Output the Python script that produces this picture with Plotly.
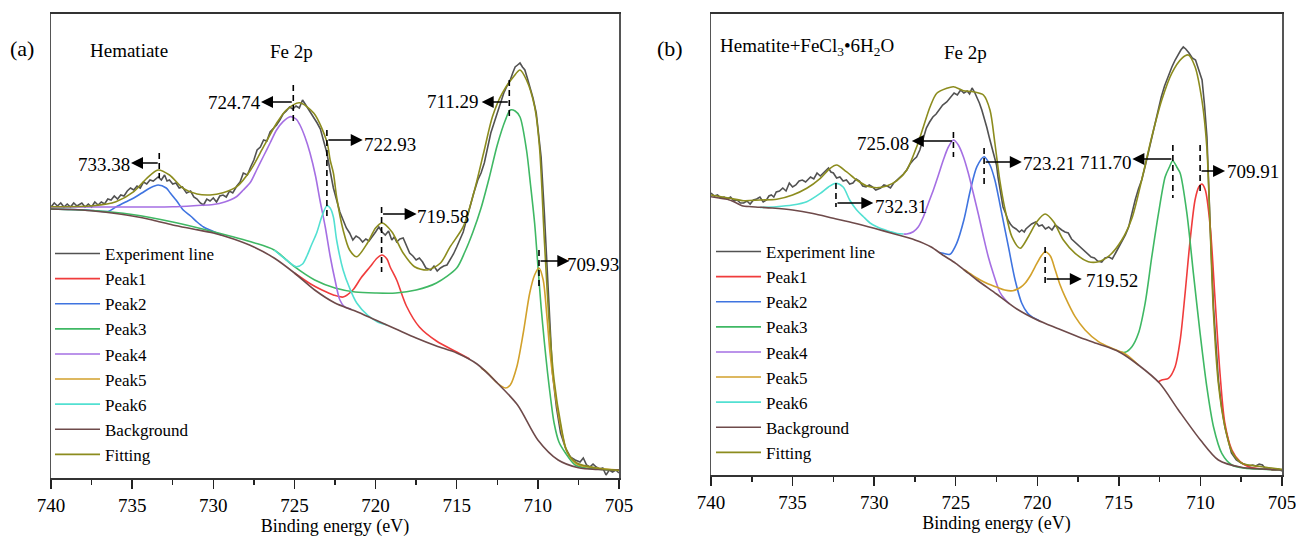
import plotly.graph_objects as go

SERIF = "Liberation Serif"

# ---------------- Panel (a): Hematiate ----------------
a_exp_E = [740, 739.8, 739.6, 739.4, 739.2, 739.0, 738.8, 738.6, 738.4, 738.1, 737.9, 737.7, 737.5, 737.3, 737.1,
           736.9, 736.7, 736.5, 736.3, 736.1, 735.9, 735.7, 735.5, 735.3, 735.1, 734.9, 734.7, 734.5, 734.3, 734.1,
           733.9, 733.7, 733.4, 733.2, 733.0, 732.85, 732.7, 732.5, 732.3, 732.1, 731.9, 731.65, 731.4, 731.2, 731.0,
           730.8, 730.6, 730.4, 730.2, 730.0, 729.8, 729.6, 729.4, 729.2, 729.0, 728.8, 728.55, 728.35, 728.15, 727.9,
           727.7, 727.5, 727.3, 727.1, 726.9, 726.7, 726.5, 726.3, 726.1, 725.9, 725.7, 725.5, 725.3, 725.1, 724.9,
           724.7, 724.5, 724.3, 724.1, 723.85, 723.6, 723.4, 723.2, 723.0, 722.8, 722.6, 722.4, 722.2, 722.0, 721.8,
           721.6, 721.4, 721.2, 721.0, 720.8, 720.6, 720.4, 720.2, 720.0, 719.8, 719.6, 719.4, 719.2, 719.0, 718.85,
           718.7, 718.5, 718.3, 718.1, 717.9, 717.7, 717.5, 717.3, 717.1, 716.9, 716.6, 716.4, 716.2, 716.0, 715.8,
           715.6, 715.4, 715.2, 715.0, 714.8, 714.6, 714.4, 714.2, 713.95, 713.7, 713.5, 713.3, 713.1, 712.9, 712.7,
           712.5, 712.3, 712.1, 711.9, 711.7, 711.55, 711.4, 711.25, 711.1, 710.95, 710.8, 710.65, 710.5, 710.3, 710.1,
           709.95, 709.8, 709.6, 709.4, 709.25, 709.1, 708.85, 708.6, 708.3, 708.0, 707.7, 707.4, 707.2, 707.0, 706.8,
           706.6, 706.4, 706.2, 706.0, 705.8, 705.6, 705.4, 705.2, 705.0]
a_exp = [271, 275, 272, 275, 271, 274, 271, 275, 272, 275, 271, 274, 271, 276, 273,
         276, 274, 279, 278, 282, 279, 283, 282, 287, 290, 288, 292, 290, 296, 294,
         298, 297, 301, 298, 303, 297, 298, 294, 295, 290, 291, 285, 287, 281, 279,
         275, 273, 279, 277, 280, 276, 282, 283, 281, 287, 285, 292, 296, 305, 303,
         311, 318, 328, 331, 338, 337, 346, 349, 353, 358, 364, 367, 371, 369, 372,
         370, 378, 373, 368, 362, 355, 349, 338, 325, 307, 290, 278, 266, 258, 250,
         245, 238, 242, 240, 236, 239, 237, 241, 246, 251, 246, 243, 247, 238, 241,
         236, 239, 240, 232, 225, 222, 218, 220, 216, 210, 208, 212, 207, 210, 212,
         213, 218, 224, 231, 238, 246, 258, 271, 285, 298, 305, 315, 330, 345, 355,
         365, 376, 385, 392, 398, 405, 411, 413, 415, 411, 408, 400, 391, 380, 365,
         345, 321, 265, 205, 150, 105, 70, 45, 30, 21, 18, 16, 20, 13, 11,
         14, 11, 9, 10, 3, 8, 6, 8, 5]

a_bg_E = [740, 738.75, 737.5, 736.25, 735, 733.75, 732.5, 731.25, 730, 728.75, 727.5, 726.25, 725, 723.75, 722.5,
          721.25, 720, 718.75, 717.5, 716.25, 715, 713.75, 712.5, 711.25, 710, 708.75, 707.5, 706.25, 705]
a_bg = [269, 268.5, 267.3, 265, 262, 258, 253, 249, 245, 239, 231, 220, 205, 188, 175,
        167, 158, 149, 140, 132, 125, 114, 95, 73, 38, 18, 10.3, 8.5, 8]

a_p1_E = [725, 724, 723.3, 722.6, 722, 721.4, 720.9, 720.35, 719.9, 719.6, 719.3, 719.1, 718.7, 718.1, 717.3,
          716.25, 715, 714.2]
a_p1 = [205, 194, 188, 183, 181, 188, 200, 211, 220, 223, 219, 211, 198, 172, 151,
        137, 126, 119]

a_p2_E = [740, 738.5, 737.4, 736.5, 736, 735.4, 734.9, 734.4, 733.9, 733.4, 732.9, 732.65, 732.25, 731.85, 731.4,
          731, 730.6, 730.2, 729.5]
a_p2 = [269, 268.5, 267.5, 266.5, 271, 276, 280, 285, 290, 293, 290, 285, 277, 268, 262,
        256, 251, 248, 243]

a_p3_E = [740, 737.5, 735, 732.5, 730, 727.5, 726.25, 725, 723.75, 722.5, 721.25, 720, 718.75, 717.5, 716.25,
          715, 714.5, 714, 713.5, 713, 712.5, 712, 711.7, 711.4, 711.1, 710.7, 710.45, 710.2, 710, 709.8,
          709.6, 709.4, 709.2, 709, 708.7, 708.3, 707.7, 707, 706, 705]
a_p3 = [269, 267.5, 263.5, 256, 246.3, 235.3, 228, 211.3, 198, 190, 186, 185, 185, 188, 195,
        210, 226, 246, 270, 300, 333, 358, 368, 367, 361, 328, 293, 255, 213, 171,
        136, 105, 78, 55, 36, 25, 13, 10, 8.5, 8]

a_p4_E = [740, 737.5, 735, 732.5, 731, 730, 729.3, 728.6, 728.15, 727.7, 727.33, 726.9, 726.5, 726.1, 725.7,
          725.27, 724.9, 724.66, 724.35, 724.04, 723.7, 723.43, 723.1, 722.8, 722.5, 722.2, 721.9, 721.5]
a_p4 = [271, 271, 271, 271.3, 272.5, 273.5, 276, 281, 288, 296, 308, 322, 335, 348, 356.3,
        361.3, 359, 353, 341, 325, 302, 278, 251, 222, 198, 178, 171, 169]

a_p5_E = [713.5, 713.15, 712.5, 712, 711.7, 711.3, 710.9, 710.5, 710.2, 709.93, 709.67, 709.46, 709.25, 709.05,
          708.64, 708.2, 707.6, 706.4, 705]
a_p5 = [110, 106, 95, 90, 93, 111, 145, 185, 203, 210, 198, 165, 125, 98,
        55, 26, 14, 10, 8]

a_p6_E = [726.25, 725.5, 725, 724.86, 724.5, 724.25, 723.95, 723.63, 723.3, 723, 722.8, 722.6, 722.4, 722,
          721.6, 721.16, 720.5, 719.9, 719.3]
a_p6 = [228, 218, 212, 211.3, 214, 221.3, 233, 245, 262, 272.3, 270, 261, 238, 208,
        190, 175, 163, 156.3, 153]

a_fit_E = [740, 737.4, 736, 734.9, 734.1, 733.4, 732.7, 731.85, 731, 730.2, 729.4, 728.55, 727.7, 726.9, 726.1,
           725.5, 724.7, 723.8, 723, 722.8, 722.6, 722.4, 722, 721.6, 721.16, 720.5, 720, 719.6, 719, 718.3,
           717.6, 716.8, 716, 715.4, 714.6, 713.95, 713.3, 712.8, 712.2, 711.5, 711.1, 710.7, 710.2, 709.9, 709.6,
           709.3, 709, 708.6, 708.2, 707.6, 706.4, 705]
a_fit = [271.3, 272.3, 276.3, 286.3, 299.7, 308, 303, 289.7, 284, 283, 285.3, 291.3, 308, 331.3, 354.7,
         368, 375.3, 364.7, 336.3, 318, 305, 281, 248, 228, 221.3, 235, 250, 255, 246.3, 225,
         211.3, 208, 215, 231.3, 251.3, 285, 328, 361.3, 384.7, 401.3, 408, 398, 371.3, 331.3, 238,
         155, 98, 55, 26.3, 15, 10, 7.5]

# ---------------- Panel (b): Hematite + FeCl3·6H2O ----------------
b_exp_E = [740, 739.8, 739.6, 739.4, 739.2, 739.0, 738.8, 738.6, 738.4, 738.2, 738.0, 737.8, 737.6, 737.4, 737.2,
           737.0, 736.8, 736.6, 736.45, 736.3, 736.15, 736.0, 735.8, 735.6, 735.4, 735.2, 735.0, 734.8, 734.6, 734.4,
           734.2, 733.9, 733.7, 733.5, 733.3, 733.1, 732.95, 732.8, 732.65, 732.5, 732.3, 732.1, 731.9, 731.7, 731.5,
           731.3, 731.1, 730.9, 730.7, 730.5, 730.3, 730.1, 729.9, 729.6, 729.4, 729.2, 729.0, 728.8, 728.6, 728.4,
           728.2, 728.0, 727.8, 727.6, 727.4, 727.2, 727.0, 726.8, 726.6, 726.4, 726.2, 726.0, 725.8, 725.55, 725.3,
           725.1, 724.9, 724.7, 724.5, 724.3, 724.15, 724.0, 723.85, 723.7, 723.55, 723.4, 723.25, 723.1, 722.95, 722.8,
           722.65, 722.5, 722.4, 722.25, 722.1, 721.95, 721.8, 721.65, 721.5, 721.3, 721.1, 720.95, 720.8, 720.7, 720.55,
           720.35, 720.1, 719.9, 719.7, 719.5, 719.3, 719.1, 718.9, 718.7, 718.5, 718.3, 718.1, 717.9, 717.7, 717.5,
           717.3, 717.1, 716.9, 716.7, 716.5, 716.3, 716.05, 715.85, 715.6, 715.4, 715.2, 715.0, 714.8, 714.6, 714.4,
           714.2, 714.0, 713.8, 713.6, 713.4, 713.2, 713.0, 712.8, 712.6, 712.4, 712.2, 712.0, 711.75, 711.55, 711.35,
           711.2, 711.05, 710.9, 710.7, 710.5, 710.3, 710.1, 709.9, 709.75, 709.6, 709.4, 709.2, 708.9, 708.7, 708.5,
           708.3, 708.1, 707.8, 707.5, 707.2, 707.0, 706.8, 706.6, 706.4, 706.2, 706.0, 705.8, 705.6, 705.4, 705.2,
           705.0]
b_exp = [282, 279, 280, 277, 278, 276, 278, 274, 275, 272, 272, 274, 271, 275, 276,
         278, 273, 275, 279, 280, 278, 283, 284, 287, 284, 292, 288, 290, 294, 295,
         293, 298, 296, 302, 299, 302, 304, 307, 303, 302, 297, 298, 294, 295, 291,
         292, 296, 294, 289, 288, 290, 288, 285, 287, 290, 289, 287, 292, 295, 298,
         301, 305, 311, 315, 318, 325, 337, 347, 353, 358, 361, 365, 370, 373, 378,
         382, 380, 385, 382, 384, 381, 387, 383, 378, 372, 365, 357, 348, 338, 328,
         320, 310, 297, 282, 268, 262, 255, 251, 248, 246, 243, 245, 243, 246, 248,
         251, 253, 249, 250, 246, 248, 245, 250, 247, 245, 243, 242, 236, 233, 231,
         228, 225, 222, 218, 217, 214, 213, 217, 218, 216, 222, 228, 235, 240, 248,
         262, 275, 286, 295, 308, 322, 337, 352, 365, 378, 389, 398, 408, 415, 421,
         425, 428, 426, 422, 417, 415, 405, 395, 370, 338, 248, 168, 95, 68, 48,
         34, 22, 15, 12, 10, 9, 10, 9, 11, 10, 6, 7, 5, 5, 6,
         4]

b_bg_E = [740, 739.5, 739, 738.5, 738.1, 737.5, 736.25, 735, 733.75, 732.5, 731.25, 730, 728.75, 727.5, 726.5,
          725.8, 725, 724.4, 723.7, 722.5, 721.25, 720, 718.75, 717.5, 716.25, 715, 713.8, 712.5, 711.35, 710,
          708.9, 707.5, 706.25, 705]
b_bg = [278.3, 277, 275.7, 272.5, 269.3, 268.3, 267, 265, 261.5, 256.7, 252, 246.7, 241, 235, 228,
        220, 211.7, 204, 195, 181, 166, 155, 146.5, 138.3, 131, 123.3, 110, 91.7, 65, 35,
        15, 7.7, 6, 5]

b_p1_E = [712.6, 712.37, 711.96, 711.55, 711.24, 710.94, 710.63, 710.33, 710.1, 709.91, 709.7, 709.4, 709.1, 708.8,
          708.5, 708.07, 707.57, 707.06, 706.5, 705]
b_p1 = [93, 95, 96.7, 108.3, 135, 181.7, 235, 275, 288, 291, 285, 248.3, 175, 101.7,
        51.7, 25, 13.3, 8.3, 6.5, 5]

b_p2_E = [726, 725.76, 725.35, 724.94, 724.5, 724.1, 723.7, 723.26, 722.9, 722.6, 722.3, 722.18, 721.77, 721.36,
          720.95, 720.6, 720.34, 719.9]
b_p2 = [222.5, 221.7, 220.7, 231.7, 255, 285, 308.3, 318.3, 310, 295, 271.7, 261.7, 228.3, 195,
        171.7, 162, 158.3, 154.5]

b_p3_E = [715, 714.62, 714.2, 713.8, 713.39, 712.98, 712.57, 712.16, 711.9, 711.7, 711.45, 711.24, 710.83, 710.43,
          710.02, 709.61, 709.2, 708.69, 708.07, 707.26, 706.5, 705]
b_p3 = [123.3, 122.7, 128.3, 141.7, 171.7, 218.3, 261.7, 298.3, 308, 314.3, 308, 301.7, 261.7, 201.7,
        141.7, 88.3, 48.3, 21.7, 10, 6.7, 6, 5]

b_p4_E = [728.2, 728, 727.6, 727.3, 726.98, 726.67, 726.37, 726.06, 725.76, 725.45, 725.14, 724.84, 724.53, 724.23,
          723.92, 723.6, 723.3, 723, 722.7, 722.3, 722, 721.7]
b_p4 = [241, 241, 243.3, 248, 258.3, 272, 285, 300, 315, 328, 335, 330, 318.3, 302,
        281.7, 260, 238.3, 218, 201.7, 183, 176, 171]

b_p5_E = [724.5, 724, 723.5, 723, 722.5, 722, 721.5, 721, 720.75, 720.4, 720.13, 719.8, 719.52, 719.2, 718.9,
          718.6, 718.3, 717.68, 717.07, 716.25, 715.43, 714.7, 714.2, 713.8]
b_p5 = [205.5, 200, 195, 191, 188, 185, 184.3, 188, 191.7, 200, 208.3, 218, 223.3, 219, 205,
        190, 178.3, 158.3, 145, 133.3, 126.7, 122, 116, 110]

b_p6_E = [737, 736, 735, 734.13, 733.3, 732.8, 732.34, 731.9, 731.5, 731.07, 730.66, 730.25, 729.84, 729.4, 729,
          728.6, 728.2]
b_p6 = [267.5, 268.3, 270, 273.3, 281.7, 288, 291.7, 288, 275, 265, 258.3, 252, 248.3, 245.5, 243.3,
        241.5, 241]

b_fit_E = [740, 738.84, 738, 737, 735.97, 735, 734.13, 733.3, 732.7, 732.3, 731.7, 731.07, 730.45, 729.84, 729.23,
           728.6, 728, 727.39, 726.98, 726.57, 726.16, 725.55, 725.14, 724.53, 723.92, 723.3, 722.9, 722.6, 722.3,
           721.97, 721.56, 721.05, 720.55, 720.03, 719.52, 719, 718.4, 717.68, 716.87, 716.25, 715.54, 714.82, 714.2,
           713.6, 712.98, 712.37, 711.76, 711.14, 710.74, 710.33, 709.91, 709.61, 709.4, 709.2, 708.9, 708.5, 708.07,
           707.46, 706.24, 705]
b_fit = [280, 276.7, 274.3, 275, 275.7, 280, 286.7, 296.7, 306.7, 310, 303.3, 295, 289, 287.3, 289,
         294.3, 305, 328.3, 348.3, 368.3, 381.7, 386.7, 388.3, 384.3, 383.3, 380, 365, 332, 295,
         265, 238.3, 226.7, 238.3, 253.3, 261, 253.3, 235, 221.7, 213.3, 213.3, 220, 235, 256.7,
         295, 338.3, 375, 401.7, 416.7, 420, 408.3, 375, 328.3, 245, 161.7, 91.7, 48.3, 23.3,
         11.7, 8.3, 5.7]

# axis ticks
tick_vals = [740, 735, 730, 725, 720, 715, 710, 705]
tick_text = ["740", "735", "730", "725", "720", "715", "710", "705"]

# peak labels: text, text centre (E, h), marker E, marker h range, arrow h, arrow head E
a_labels = [
    ("733.38", 736.73, 314, 733.33, 325, 300, 315, 735.07),
    ("724.74", 728.72, 375, 725.07, 393, 353, 376, 727.06),
    ("722.93", 719.14, 334, 723.00, 348, 258, 338, 720.79),
    ("719.58", 715.82, 262, 719.63, 271, 206, 264, 717.47),
    ("711.29", 715.23, 376, 711.76, 398, 358, 376, 713.46),
    ("709.93", 706.60, 214, 709.93, 228, 190, 217, 708.06),
]
b_labels = [
    ("725.08", 729.43, 332, 725.14, 343, 318, 334, 727.69),
    ("732.31", 728.36, 269, 732.34, 292, 268, 272, 730.05),
    ("723.21", 719.31, 312, 723.26, 327, 287, 313, 720.95),
    ("711.70", 715.79, 313, 711.69, 330, 277, 316, 714.17),
    ("709.91", 706.80, 304, 710.02, 330, 282, 304, 708.49),
    ("719.52", 715.44, 195, 719.52, 228, 192, 196, 717.27),
]

NAMES = ["Experiment line", "Peak1", "Peak2", "Peak3", "Peak4", "Peak5", "Peak6", "Background", "Fitting"]
COLORS = {
    "Experiment line": "#525252",
    "Peak1": "#f03c3c",
    "Peak2": "#3f74e0",
    "Peak3": "#3fb864",
    "Peak4": "#a56fe3",
    "Peak5": "#d2a12b",
    "Peak6": "#52e0d2",
    "Background": "#6e4a4a",
    "Fitting": "#8c8c1e",
}

series_a = {
    "Experiment line": (a_exp_E, a_exp), "Peak1": (a_p1_E, a_p1), "Peak2": (a_p2_E, a_p2),
    "Peak3": (a_p3_E, a_p3), "Peak4": (a_p4_E, a_p4), "Peak5": (a_p5_E, a_p5), "Peak6": (a_p6_E, a_p6),
    "Background": (a_bg_E, a_bg), "Fitting": (a_fit_E, a_fit),
}
series_b = {
    "Experiment line": (b_exp_E, b_exp), "Peak1": (b_p1_E, b_p1), "Peak2": (b_p2_E, b_p2),
    "Peak3": (b_p3_E, b_p3), "Peak4": (b_p4_E, b_p4), "Peak5": (b_p5_E, b_p5), "Peak6": (b_p6_E, b_p6),
    "Background": (b_bg_E, b_bg), "Fitting": (b_fit_E, b_fit),
}

fig = go.Figure()


def add_panel(series, xa, ya, leg):
    for name in NAMES:
        E, v = series[name]
        shape = "linear" if name == "Experiment line" else "spline"
        fig.add_trace(go.Scatter(
            x=E, y=v, mode="lines", name=name,
            line=dict(color=COLORS[name], width=1.6, shape=shape, smoothing=0.8),
            xaxis=xa, yaxis=ya, legend=leg, hoverinfo="skip"))


add_panel(series_a, "x", "y", "legend")
add_panel(series_b, "x2", "y2", "legend2")

annotations = []
shapes = []


def add_labels(labels, xr, yr):
    for txt, tE, th, mE, m0, m1, ah, hE in labels:
        annotations.append(dict(x=tE, y=th, xref=xr, yref=yr, text=txt, showarrow=False,
                                xanchor="center", yanchor="middle",
                                font=dict(family=SERIF, size=19, color="black")))
        annotations.append(dict(x=hE, y=ah, ax=mE, ay=ah, xref=xr, yref=yr, axref=xr, ayref=yr,
                                text="", showarrow=True, arrowhead=2, arrowsize=1.5, arrowwidth=1.6,
                                arrowcolor="black", standoff=0, startstandoff=0))
        shapes.append(dict(type="line", xref=xr, yref=yr, x0=mE, x1=mE, y0=m0, y1=m1,
                           line=dict(color="black", width=1.6, dash="6px,4px")))


add_labels(a_labels, "x", "y")
add_labels(b_labels, "x2", "y2")

annotations += [
    dict(x=21.7 / 1296, y=1 - 48 / 540, xref="paper", yref="paper", text="(a)", showarrow=False,
         xanchor="center", yanchor="middle", font=dict(family=SERIF, size=22, color="black")),
    dict(x=670 / 1296, y=1 - 48 / 540, xref="paper", yref="paper", text="(b)", showarrow=False,
         xanchor="center", yanchor="middle", font=dict(family=SERIF, size=22, color="black")),
    dict(x=737.72, y=427, xref="x", yref="y", text="Hematiate", xanchor="left", yanchor="middle",
         showarrow=False, font=dict(family=SERIF, size=19, color="black")),
    dict(x=725.15, y=426, xref="x", yref="y", text="Fe 2p", xanchor="center", yanchor="middle",
         showarrow=False, font=dict(family=SERIF, size=19, color="black")),
    dict(x=739.57, y=428, xref="x2", yref="y2", text="Hematite+FeCl<sub>3</sub>•6H<sub>2</sub>O",
         xanchor="left", yanchor="middle", showarrow=False, font=dict(family=SERIF, size=19, color="black")),
    dict(x=724.39, y=422, xref="x2", yref="y2", text="Fe 2p", xanchor="center", yanchor="middle",
         showarrow=False, font=dict(family=SERIF, size=19, color="black")),
]


def xaxis_cfg(domain, anchor):
    return dict(domain=domain, anchor=anchor, range=[740, 705], tickvals=tick_vals, ticktext=tick_text,
                ticks="outside", ticklen=9, tickwidth=1.5, tickcolor="#222",
                minor=dict(ticks="outside", ticklen=5, tickwidth=1.5, tickcolor="#222", dtick=2.5),
                showline=True, linecolor="#333", linewidth=2, mirror=True,
                showgrid=False, zeroline=False, automargin=False, ticklabeloverflow="allow",
                tickfont=dict(family=SERIF, size=19, color="black"),
                title=dict(text="Binding energy (eV)", font=dict(family=SERIF, size=18, color="black"),
                           standoff=4))


def yaxis_cfg(domain, anchor, top):
    return dict(domain=domain, anchor=anchor, range=[0, top], showticklabels=False, ticks="",
                showline=True, linecolor="#555", linewidth=1.5, mirror=True,
                showgrid=False, zeroline=False, automargin=False)


legend_common = dict(font=dict(family=SERIF, size=17, color="black"), bgcolor="rgba(0,0,0,0)",
                     borderwidth=0, tracegroupgap=0, itemwidth=45, yanchor="top", xanchor="left",
                     itemclick=False, itemdoubleclick=False)

fig.update_layout(
    width=1296, height=540,
    margin=dict(l=0, r=0, t=0, b=0, pad=0, autoexpand=False),
    paper_bgcolor="white", plot_bgcolor="white",
    showlegend=True,
    xaxis=xaxis_cfg([51 / 1296, 619 / 1296], "y"),
    yaxis=yaxis_cfg([62 / 540, 526 / 540], "x", 464),
    xaxis2=xaxis_cfg([711 / 1296, 1282 / 1296], "y2"),
    yaxis2=yaxis_cfg([65 / 540, 526 / 540], "x2", 461),
    legend=dict(x=50 / 1296, y=1 - 236 / 540, **legend_common),
    legend2=dict(x=711 / 1296, y=1 - 234 / 540, **legend_common),
    annotations=annotations,
    shapes=shapes,
)

# remove the page's default 8px body margin so the figure sits at the window's top-left corner
fig.write_html("out.html",
               config={"displayModeBar": False, "staticPlot": True},
               post_script="document.body.style.margin='0px';document.body.style.padding='0px';"
                           "document.documentElement.style.overflow='hidden';")
